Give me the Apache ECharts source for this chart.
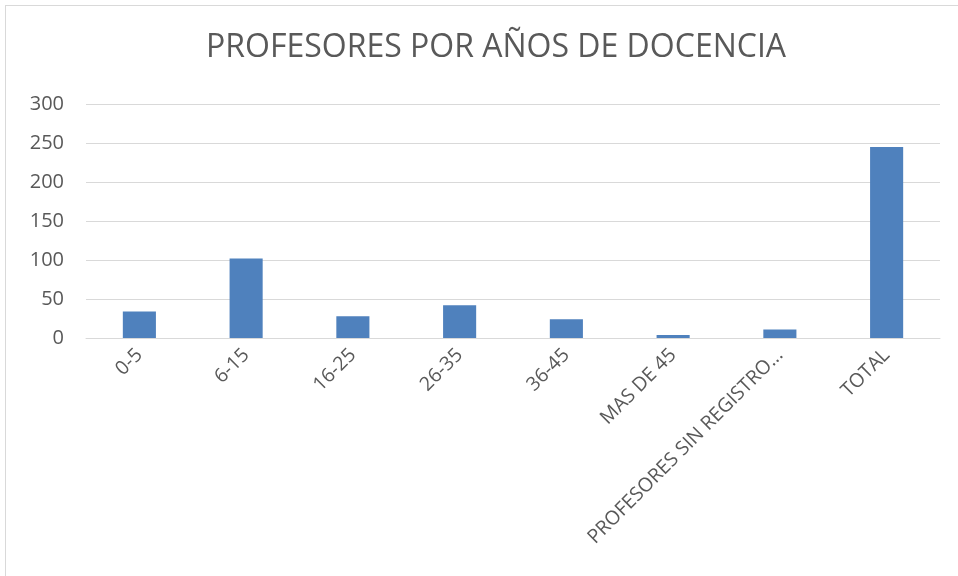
<!DOCTYPE html>
<html>
<head>
<meta charset="utf-8">
<script src="https://cdn.jsdelivr.net/npm/echarts@6/dist/echarts.min.js"></script>
<style>
  html, body { margin: 0; padding: 0; background: #fff; overflow: hidden; }
  #chart { width: 958px; height: 576px; }
  .frame { position: absolute; left: 5px; top: 5px; width: 970px; height: 590px; border: 1px solid #d9d9d9; pointer-events: none; }
</style>
</head>
<body>
<div id="chart"></div>
<div class="frame"></div>
<script>
// datos
const categorias = ['0-5', '6-15', '16-25', '26-35', '36-45', 'MAS DE 45', 'PROFESORES SIN REGISTRO...', 'TOTAL']
const profesores = [34, 102, 28, 42, 24, 4, 11, 245]
const ejeY = { min: 0, max: 300, interval: 50 }

const textColor = '#595959'
const fontFam = '"Open Sans", "Liberation Sans", sans-serif'

let myChart = echarts.init(document.getElementById('chart'))
let options = {
    animation: false,
    title: {
        text: 'PROFESORES POR AÑOS DE DOCENCIA',
        left: 201,
        top: 27,
        textStyle: {
            color: textColor,
            fontSize: 32,
            fontWeight: 'normal',
            fontFamily: fontFam
        }
    },
    grid: {
        left: 86,
        right: 18,
        top: 104,
        bottom: 238
    },
    xAxis: {
        type: 'category',
        data: categorias,
        axisTick: { show: false },
        axisLine: { lineStyle: { color: '#d9d9d9' } },
        axisLabel: {
            rotate: 45,
            interval: 0,
            color: textColor,
            fontSize: 19.5,
            fontFamily: fontFam,
            margin: 14
        }
    },
    yAxis: {
        type: 'value',
        min: ejeY.min,
        max: ejeY.max,
        interval: ejeY.interval,
        axisLine: { show: false },
        axisTick: { show: false },
        splitLine: { lineStyle: { color: '#d9d9d9', width: 1 } },
        axisLabel: {
            color: textColor,
            fontSize: 20,
            fontFamily: fontFam,
            margin: 22
        }
    },
    series: [
        {
            type: 'bar',
            data: profesores,
            barWidth: '31%',
            itemStyle: {
                color: '#4f81bd'
            }
        }
    ]
}
options && myChart.setOption(options)
</script>
</body>
</html>
